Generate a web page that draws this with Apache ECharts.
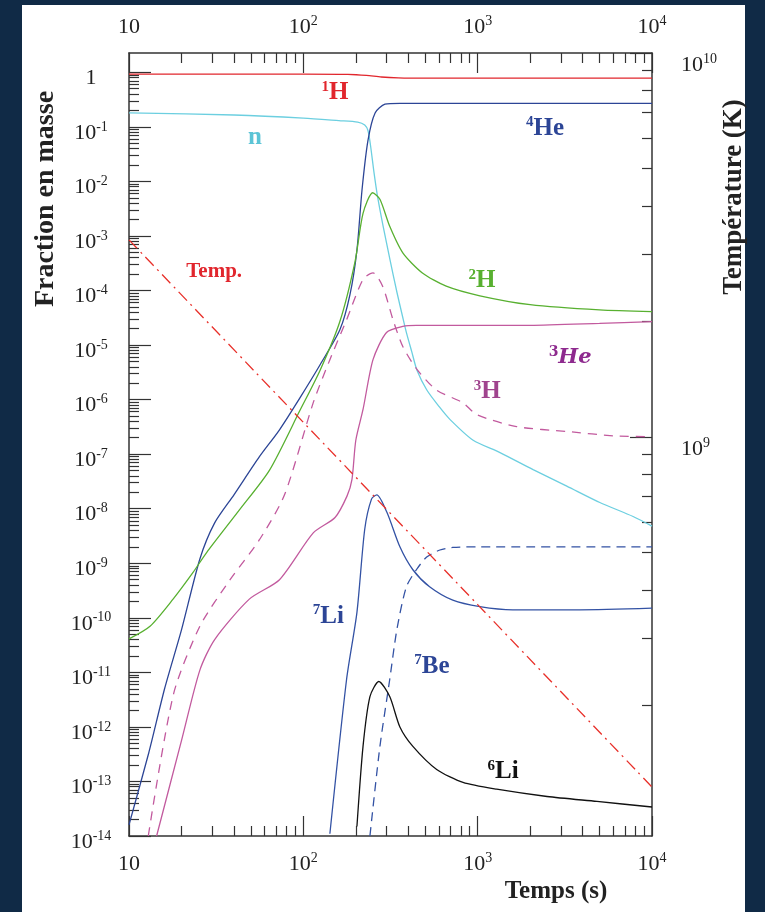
<!DOCTYPE html>
<html><head><meta charset="utf-8">
<script src="https://cdn.jsdelivr.net/npm/echarts@6/dist/echarts.min.js"></script>
<style>html,body{margin:0;padding:0;background:#102a46;}#c{width:765px;height:912px;}</style>
</head><body><div id="c"></div>
<script>
// ---- tick values ----
const xMajor = [10, 100, 1000, 10000];
const yMajor = [1e-14,1e-13,1e-12,1e-11,1e-10,1e-9,1e-8,1e-7,1e-6,1e-5,1e-4,1e-3,1e-2,1e-1,1];
const tMajor = [1e9, 1e10];
// ---- series data [time (s), mass fraction] ----
const H1 = [[10,0.93],[100,0.93],[180,0.92],[230,0.88],[280,0.82],[350,0.79],[500,0.78],[1000,0.78],[10000,0.78]];
const neutron = [[10,0.18],[40,0.165],[100,0.145],[160,0.13],[205,0.122],[225,0.108],[235,0.085],[243,0.045],[254,0.015],[266,5.5e-3],[287,1.5e-3],[314,3.7e-4],[345,9e-5],[372,3.2e-5],[392,1.6e-5],[419,7.5e-6],[448,3.5e-6],[511,1.5e-6],[600,7.5e-7],[695,4.3e-7],[942,1.8e-7],[1343,1.07e-7],[2080,5.2e-8],[3245,2.6e-8],[5020,1.3e-8],[7790,7.2e-9],[10000,4.8e-9]];
const He4 = [[10,1.6e-14],[13,3.4e-13],[16,5e-12],[20,6e-11],[25.5,1.2e-9],[31,5.5e-9],[40,1.8e-8],[56,9e-8],[73,2.8e-7],[96,1.1e-6],[125,4.4e-6],[162,1.9e-5],[185,8.3e-5],[203,5.5e-4],[217,6.9e-3],[235,0.057],[258,0.18],[294,0.26],[358,0.27],[1000,0.27],[10000,0.27]];
const H2 = [[10,4.1e-11],[13.2,7e-11],[17.9,2.2e-10],[23.3,6.8e-10],[28,1.6e-9],[43,9.5e-9],[64,5.1e-8],[96,6.5e-7],[125,3.5e-6],[162,2.7e-5],[198,3.4e-4],[220,2.6e-3],[250,6.2e-3],[275,4.7e-3],[313,1.5e-3],[372,4.9e-4],[482,2.1e-4],[660,1.2e-4],[1030,8e-5],[2000,5.5e-5],[5000,4.4e-5],[10000,4.1e-5]];
const He3 = [[14.4,1e-14],[20,5.6e-13],[25.5,1.1e-11],[31,4e-11],[49,2.2e-10],[73,5e-10],[114,3.6e-9],[152,6.9e-9],[178,1.7e-8],[190,3.4e-8],[200,1.8e-7],[220,6.6e-7],[251,5.4e-6],[300,1.7e-5],[372,2.2e-5],[445,2.3e-5],[1000,2.3e-5],[2000,2.3e-5],[5000,2.5e-5],[10000,2.7e-5]];
const H3 = [[12.9,1e-14],[18,4e-12],[25.5,7e-11],[38,5e-10],[56,2.7e-9],[78,1.8e-8],[114,8.8e-7],[142,5.4e-6],[177,2.9e-5],[220,1.6e-4],[251,2.1e-4],[285,1.2e-4],[327,2.9e-5],[372,9.4e-6],[445,3.7e-6],[580,1.5e-6],[820,8.8e-7],[989,5.3e-7],[1670,3.2e-7],[3270,2.6e-7],[6260,2.15e-7],[10000,2.1e-7]];
const Li7 = [[142,1.1e-14],[177,7.4e-12],[203,1.26e-10],[225,4.2e-9],[246,1.5e-8],[264,1.8e-8],[302,8.5e-9],[358,2e-9],[425,7.6e-10],[530,3.7e-10],[720,2.1e-10],[1030,1.6e-10],[1590,1.4e-10],[3850,1.4e-10],[10000,1.5e-10]];
const Be7 = [[241,1e-14],[275,4.4e-13],[313,7.4e-12],[344,6.1e-11],[390,3.7e-10],[445,7.6e-10],[510,1.3e-9],[607,1.75e-9],[720,1.95e-9],[1030,2e-9],[10000,2e-9]];
const Li6 = [[203,1.5e-14],[220,4.4e-13],[241,3.6e-12],[271,6.8e-12],[313,3.6e-12],[358,1e-12],[425,4.4e-13],[582,1.66e-13],[824,9.6e-14],[1285,7.2e-14],[2500,5.3e-14],[4830,4.3e-14],[10000,3.4e-14]];
// temperature (K) vs time (s)
const Temp = [[10,3.26e9],[100,1.092e9],[1000,3.66e8],[10000,1.226e8]];
// curve labels: [sup, text, t, value, color]
const curveLabels = [
  ['1','H',152,0.42,'#e1262d'],
  ['','n',52.8,0.065,'#5bc4d6'],
  ['4','He',2437,0.095,'#2c4596'],
  ['','Temp.',30.8,2.2e-4,'#e1262d'],
  ['2','H',1060,1.5e-4,'#58b030'],
  ['3','H',1133,1.4e-6,'#a0448e'],
  ['7','Li',139,1.07e-10,'#2c4596'],
  ['7','Be',547,1.3e-11,'#2c4596'],
  ['6','Li',1400,1.5e-13,'#111']
];

const serif = 'Liberation Serif';
const axisColor = '#333';
const rich = {
  b:{fontFamily:serif,fontSize:22,color:'#222',lineHeight:26},
  s:{fontFamily:serif,fontSize:14,color:'#222',lineHeight:15,verticalAlign:'top'}
};
function minorOf(lo, hi){const r=[];for(let e=lo;e<hi;e++){for(let k=2;k<=9;k++){r.push(k*Math.pow(10,e));}}return r;}
const xMinor = minorOf(1,4);
const yMinor = minorOf(-14,0);
const T0=9.14e7,T1=1e10;
const tMinor = minorOf(7,10).filter(v=>v>T0);
function fmtPow(v){const e=Math.round(Math.log10(v)); if(e===0) return '{b|1}'; if(e===1) return '{b|10}'; return '{b|10}{s|'+e+'}';}

const X0=10,X1=10000,Y0=1e-14,Y1=2.26;
function xAx(pos, major){
  return {type:'log',logBase:10,min:X0,max:X1,position:pos,
    axisLine:{show:major,onZero:false,lineStyle:{color:axisColor,width:1.5}},
    axisTick:{show:true,inside:true,length:major?20:10,customValues:major?xMajor:xMinor,lineStyle:{color:axisColor,width:1.2}},
    axisLabel:{show:major,customValues:xMajor,margin:pos==='top'?13:15,formatter:fmtPow,rich:rich},
    splitLine:{show:false},minorTick:{show:false}};
}
function yAx(pos, major, temp){
  return {type:'log',logBase:10,min:temp?T0:Y0,max:temp?T1:Y1,position:pos,
    axisLine:{show:major,onZero:false,lineStyle:{color:axisColor,width:1.5}},
    axisTick:{show:true,inside:true,length:major?22:10,customValues:major?(temp?tMajor:yMajor):(temp?tMinor:yMinor),lineStyle:{color:axisColor,width:1.2}},
    axisLabel:{show:major,customValues:temp?tMajor:yMajor,margin:temp?29:38,align:temp?'left':'center',padding:temp?[24,0,0,0]:[12,0,0,0],formatter:fmtPow,rich:rich},
    splitLine:{show:false},minorTick:{show:false}};
}
function line(data, color, type, yi){
  return {type:'line',data:data,xAxisIndex:0,yAxisIndex:yi||0,showSymbol:false,symbol:'none',
    smooth:0.25,lineStyle:{color:color,width:1.3,type:type||'solid'},z:3};
}
const chart = echarts.init(document.getElementById('c'),null,{renderer:'canvas'});
chart.setOption({
  animation:false,
  backgroundColor:'#102a46',
  grid:{left:129,right:113,top:53,bottom:76,show:false},
  xAxis:[xAx('bottom',true),xAx('bottom',false),xAx('top',true),xAx('top',false)],
  yAxis:[yAx('left',true,false),yAx('left',false,false),yAx('right',true,true),yAx('right',false,true)],
  series:[
    line(H1,'#e1262d'),
    line(neutron,'#6ccfe0'),
    line(He4,'#2c4596'),
    line(H2,'#58b030'),
    line(He3,'#c25a9e'),
    line(H3,'#c25a9e',[9,7]),
    line(Li7,'#3352a4'),
    line(Be7,'#3352a4',[9,6]),
    line(Li6,'#111'),
    line(Temp,'#e8302a',[12,5,2,5],2)
  ]
});
const g = [
  {type:'rect',shape:{x:22,y:5,width:723,height:907},style:{fill:'#fff'},z:-10,silent:true},
  {type:'text',x:46,y:199,rotation:Math.PI/2,style:{text:'Fraction en masse',font:'bold 28px "Liberation Serif"',fill:'#222',align:'center',verticalAlign:'middle'},z:10},
  {type:'text',x:734,y:197,rotation:Math.PI/2,style:{text:'Température (K)',font:'bold 27px "Liberation Serif"',fill:'#222',align:'center',verticalAlign:'middle'},z:10},
  {type:'text',x:556,y:892,style:{text:'Temps (s)',font:'bold 25px "Liberation Serif"',fill:'#222',align:'center',verticalAlign:'middle'},z:10}
];
curveLabels.forEach(function(c){
  const p = chart.convertToPixel({xAxisIndex:0,yAxisIndex:0},[c[2],c[3]]);
  const txt = c[0] ? '{s|'+c[0]+'}{b|'+c[1]+'}' : '{b|'+c[1]+'}';
  const big = c[1]==='Temp.'?21:25;
  g.push({type:'text',x:p[0],y:p[1],z:10,style:{text:txt,align:'center',verticalAlign:'middle',
    rich:{b:{fontFamily:serif,fontWeight:'bold',fontSize:big,fill:c[4],color:c[4],lineHeight:big+2},
          s:{fontFamily:serif,fontWeight:'bold',fontSize:15,fill:c[4],color:c[4],lineHeight:15,verticalAlign:'top'}}}});
});
{
  const p = chart.convertToPixel({xAxisIndex:0,yAxisIndex:0},[3390,5.9e-6]);
  g.push({type:'text',x:p[0],y:p[1],z:10,style:{text:'{s|3}{b|He}',align:'center',verticalAlign:'middle',
    rich:{b:{fontFamily:'DejaVu Serif',fontStyle:'italic',fontWeight:'bold',fontSize:21,color:'#8e2a8e',fill:'#8e2a8e',lineHeight:24},
          s:{fontFamily:'DejaVu Serif',fontWeight:'bold',fontSize:14,color:'#8e2a8e',fill:'#8e2a8e',lineHeight:14,verticalAlign:'top'}}}});
}
chart.setOption({graphic:g});
</script></body></html>
